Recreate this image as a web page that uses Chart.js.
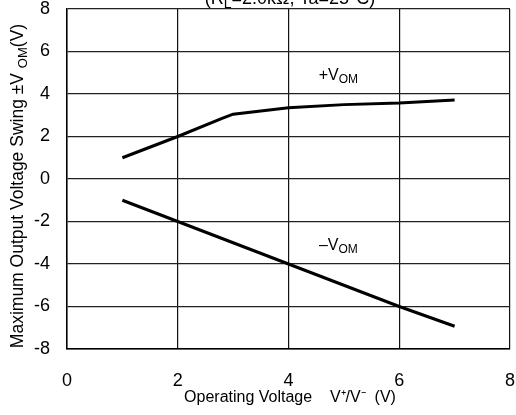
<!DOCTYPE html>
<html>
<head>
<meta charset="utf-8">
<script src="https://cdn.jsdelivr.net/npm/chart.js@4.4.1/dist/chart.umd.min.js"></script>
<style>
  html, body { margin: 0; padding: 0; background: #fff; }
  #wrap { width: 516px; height: 415px; position: relative; }
</style>
</head>
<body>
<div id="wrap"><canvas id="swingChart"></canvas></div>
<script>
// operating voltage V+/V- (V)
const posX = [1, 2, 2.8, 3, 3.5, 4, 5, 6, 7];
const posY = [1, 2, 2.85, 3.05, 3.2, 3.35, 3.5, 3.58, 3.72];
const negX = [1, 2, 4, 6, 7];
const negY = [-1, -2, -4, -6, -6.93];
const xTicks = [0, 2, 4, 6, 8];
const yTicks = [-8, -6, -4, -2, 0, 2, 4, 6, 8];

const FONT = 'Liberation Sans, Arial, sans-serif';

function toPoints(xs, ys) {
    return xs.map((x, i) => ({ x: x, y: ys[i] }));
}

// text with a subscript part: main + sub + rest, left aligned at baseline (x, y)
function drawSub(ctx, x, y, main, sub, rest, size) {
    ctx.font = size + 'px ' + FONT;
    ctx.fillText(main, x, y);
    let w = ctx.measureText(main).width;
    ctx.font = Math.round(size * 0.75) + 'px ' + FONT;
    ctx.fillText(sub, x + w, y + size * 0.2);
    w += ctx.measureText(sub).width;
    ctx.font = size + 'px ' + FONT;
    ctx.fillText(rest, x + w, y);
    return w + ctx.measureText(rest).width;
}

function subWidth(ctx, main, sub, rest, size) {
    ctx.font = size + 'px ' + FONT;
    let w = ctx.measureText(main).width + ctx.measureText(rest).width;
    ctx.font = Math.round(size * 0.75) + 'px ' + FONT;
    return w + ctx.measureText(sub).width;
}

const textPlugin = {
    id: 'textPlugin',
    afterDraw(chart) {
        const ctx = chart.ctx;
        const xs = chart.scales.x, ys = chart.scales.y;
        ctx.save();
        ctx.fillStyle = '#000';
        ctx.textBaseline = 'alphabetic';
        ctx.textAlign = 'left';

        // test condition, cut off at the top edge
        let w = subWidth(ctx, '(R', 'L', '=2.0kΩ, Ta=25°C)', 18);
        drawSub(ctx, 290 - w / 2, 4, '(R', 'L', '=2.0kΩ, Ta=25°C)', 18);

        // curve labels
        w = subWidth(ctx, '+V', 'OM', '', 16);
        drawSub(ctx, xs.getPixelForValue(4.9) - w / 2, ys.getPixelForValue(4.65), '+V', 'OM', '', 16);
        w = subWidth(ctx, '\u2013V', 'OM', '', 16);
        drawSub(ctx, xs.getPixelForValue(4.9) - w / 2, ys.getPixelForValue(-3.34), '\u2013V', 'OM', '', 16);

        // x axis title
        ctx.font = '16px ' + FONT;
        ctx.textAlign = 'center';
        ctx.fillText('Operating Voltage    V\u207A/V\u207B  (V)', 290, 402);

        // y axis title
        ctx.translate(23, 186);
        ctx.rotate(-Math.PI / 2);
        ctx.textAlign = 'left';
        w = subWidth(ctx, 'Maximum Output Voltage Swing \u00B1V ', 'OM', '(V)', 17.5);
        drawSub(ctx, -w / 2, 0, 'Maximum Output Voltage Swing \u00B1V ', 'OM', '(V)', 17.5);
        ctx.restore();
    }
};

new Chart(document.getElementById('swingChart').getContext('2d'), {
    type: 'scatter',
    data: {
        datasets: [
            {
                label: '+VOM',
                data: toPoints(posX, posY),
                showLine: true,
                borderColor: '#000',
                borderWidth: 3,
                pointRadius: 0,
                tension: 0
            },
            {
                label: '-VOM',
                data: toPoints(negX, negY),
                showLine: true,
                borderColor: '#000',
                borderWidth: 3,
                pointRadius: 0,
                tension: 0
            }
        ]
    },
    options: {
        responsive: true,
        maintainAspectRatio: false,
        animation: false,
        layout: { padding: { top: 9, right: 6, left: 0, bottom: 0 } },
        plugins: {
            legend: { display: false },
            tooltip: { enabled: false }
        },
        scales: {
            x: {
                type: 'linear',
                min: 0,
                max: 8,
                afterBuildTicks: (axis) => { axis.ticks = xTicks.map(v => ({ value: v })); },
                afterFit: (axis) => {
                    axis.height = 66;
                    axis.paddingLeft = 0;
                    axis.paddingRight = 0;
                },
                grid: { color: '#111', lineWidth: 1.2, drawTicks: false },
                border: { color: '#000', width: 1.5 },
                ticks: { color: '#000', font: { family: FONT, size: 18 }, padding: 21 }
            },
            y: {
                type: 'linear',
                min: -8,
                max: 8,
                afterBuildTicks: (axis) => { axis.ticks = yTicks.map(v => ({ value: v })); },
                afterFit: (axis) => {
                    axis.width = 67;
                    axis.paddingTop = 0;
                    axis.paddingBottom = 0;
                },
                grid: { color: '#222', lineWidth: 1.2, drawTicks: false },
                border: { color: '#000', width: 1.5 },
                ticks: { color: '#000', font: { family: FONT, size: 18 }, padding: 17 }
            }
        }
    },
    plugins: [textPlugin]
});
</script>
</body>
</html>
